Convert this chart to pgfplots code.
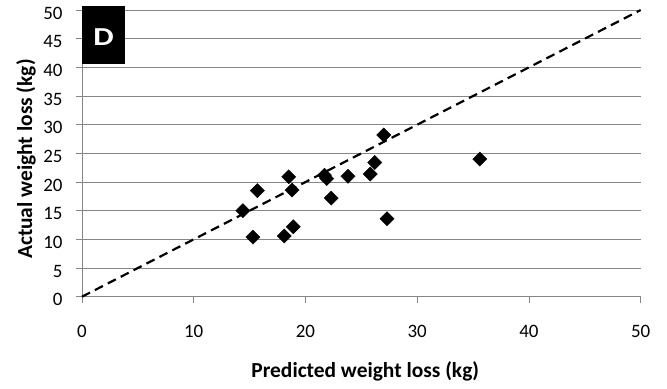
\documentclass[border=0pt]{standalone}
\usepackage{fontspec}
\setmainfont{Carlito}
\usepackage{pgfplots}
\pgfplotsset{compat=1.18}
\definecolor{gridgray}{RGB}{134,134,134}
\begin{document}
\begin{tikzpicture}
\useasboundingbox (-82bp,-92.3bp) rectangle (585bp,296.7bp);
\begin{axis}[
  at={(0,0)}, anchor=south west,
  scale only axis,
  width=558.7bp, height=286.7bp,
  xmin=0, xmax=50, ymin=0, ymax=50,
  xtick={0,10,...,50}, ytick={0,5,...,50},
  axis x line*=bottom, axis y line*=left,
  axis line style={gridgray, line width=0.9bp, -},
  ymajorgrids, grid style={gridgray, line width=0.9bp},
  tick align=outside, major tick length=6bp,
  tick style={gridgray, line width=0.9bp},
  /pgf/number format/assume math mode=true,
  ticklabel style={font=\fontsize{19}{22}\selectfont, text=black},
  xticklabel style={yshift=-19bp},
  yticklabel style={xshift=-10bp, yshift=-3bp},
  xlabel={Predicted weight loss (kg)},
  ylabel={Actual weight loss (kg)},
  label style={font=\fontsize{21.5}{24}\selectfont\bfseries},
  xlabel style={at={(axis description cs:0.507,-0.2616)}, anchor=center},
  ylabel style={at={(axis description cs:-0.1002,0.480)}, anchor=center},
  clip=false,
]
\addplot[black, line width=2.2bp, dash pattern=on 9bp off 5.5bp] coordinates {(0,0) (50,50)};
\addplot[only marks, mark=square*, mark size=5bp, mark options={rotate=45, fill=black, draw=black}] coordinates {
(15.3,10.4) (14.4,15.0) (15.7,18.5) (18.1,10.6) (18.9,12.2) (18.5,20.9) (18.8,18.6)
(21.7,21.2) (21.9,20.6) (22.3,17.2) (23.8,21.0) (25.8,21.4) (26.2,23.4) (27.0,28.2)
(27.3,13.6) (35.6,24.0)
};
\fill[black] (axis cs:0,40.6) rectangle (axis cs:3.85,50.7);
\node[text=white, inner sep=0pt, font=\fontsize{26}{30}\selectfont\bfseries] at (axis cs:1.93,45.3) {\scalebox{1.25}[1]{D}};
\end{axis}
\end{tikzpicture}
\end{document}
